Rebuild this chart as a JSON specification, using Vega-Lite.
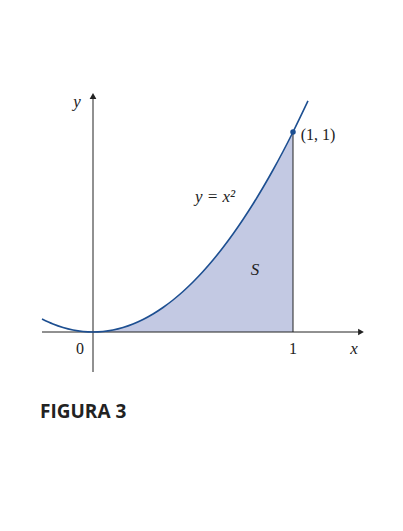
{
  "$schema": "https://vega.github.io/schema/vega-lite/v6.json",
  "width": 403,
  "height": 531,
  "autosize": {"type": "none"},
  "padding": 0,
  "background": "white",
  "config": {"view": {"stroke": null}},
  "datasets": {
    "curve": [
      {"x": -0.255, "y": 0.065}, {"x": -0.2, "y": 0.04}, {"x": -0.15, "y": 0.0225},
      {"x": -0.1, "y": 0.01}, {"x": -0.05, "y": 0.0025}, {"x": 0, "y": 0},
      {"x": 0.05, "y": 0.0025}, {"x": 0.1, "y": 0.01}, {"x": 0.15, "y": 0.0225},
      {"x": 0.2, "y": 0.04}, {"x": 0.25, "y": 0.0625}, {"x": 0.3, "y": 0.09},
      {"x": 0.35, "y": 0.1225}, {"x": 0.4, "y": 0.16}, {"x": 0.45, "y": 0.2025},
      {"x": 0.5, "y": 0.25}, {"x": 0.55, "y": 0.3025}, {"x": 0.6, "y": 0.36},
      {"x": 0.65, "y": 0.4225}, {"x": 0.7, "y": 0.49}, {"x": 0.75, "y": 0.5625},
      {"x": 0.8, "y": 0.64}, {"x": 0.85, "y": 0.7225}, {"x": 0.9, "y": 0.81},
      {"x": 0.95, "y": 0.9025}, {"x": 1, "y": 1}, {"x": 1.075, "y": 1.1556}
    ],
    "segments": [
      {"x": -0.255, "x2": 1.33, "y": 0, "y2": 0},
      {"x": 0, "x2": 0, "y": -0.2, "y2": 1.17},
      {"x": 1, "x2": 1, "y": 0, "y2": 1}
    ],
    "arrows": [
      {"x": 1.34, "y": 0, "shape": "triangle-right"},
      {"x": 0, "y": 1.18, "shape": "triangle-up"}
    ],
    "italic": [
      {"x": -0.08, "y": 1.15, "t": "y"},
      {"x": 1.305, "y": -0.085, "t": "x"},
      {"x": 0.61, "y": 0.675, "t": "y = x²"},
      {"x": 0.81, "y": 0.31, "t": "S"}
    ],
    "upright": [
      {"x": -0.065, "y": -0.085, "t": "0"},
      {"x": 1, "y": -0.085, "t": "1"},
      {"x": 1.125, "y": 0.985, "t": "(1, 1)"}
    ],
    "caption": [{"x": -0.265, "y": -0.4, "t": "FIGURA 3"}]
  },
  "encoding": {
    "x": {"field": "x", "type": "quantitative", "scale": {"domain": [-0.465, 1.55], "nice": false, "zero": false}, "axis": null},
    "y": {"field": "y", "type": "quantitative", "scale": {"domain": [-0.995, 1.66], "nice": false, "zero": false}, "axis": null}
  },
  "layer": [
    {
      "data": {"name": "curve"},
      "transform": [{"filter": "datum.x >= 0 && datum.x <= 1"}],
      "mark": {"type": "area", "color": "#c3c9e3"},
      "encoding": {"y2": {"datum": 0}}
    },
    {
      "data": {"name": "segments"},
      "mark": {"type": "rule", "color": "#222222", "strokeWidth": 1},
      "encoding": {"x2": {"field": "x2"}, "y2": {"field": "y2"}}
    },
    {
      "data": {"name": "arrows"},
      "mark": {"type": "point", "filled": true, "color": "#222222", "size": 45, "opacity": 1},
      "encoding": {"shape": {"field": "shape", "type": "nominal", "scale": null}}
    },
    {
      "data": {"name": "curve"},
      "mark": {"type": "line", "color": "#1d4f91", "strokeWidth": 1.6, "interpolate": "monotone"}
    },
    {
      "data": {"values": [{"x": 1, "y": 1}]},
      "mark": {"type": "point", "filled": true, "color": "#1d4f91", "size": 30, "opacity": 1}
    },
    {
      "data": {"name": "italic"},
      "mark": {"type": "text", "font": "Liberation Serif", "fontStyle": "italic", "fontSize": 17, "color": "#222222"},
      "encoding": {"text": {"field": "t"}}
    },
    {
      "data": {"name": "upright"},
      "mark": {"type": "text", "font": "Liberation Serif", "fontSize": 16, "color": "#222222"},
      "encoding": {"text": {"field": "t"}}
    },
    {
      "data": {"name": "caption"},
      "mark": {"type": "text", "font": "Open Sans", "fontWeight": "bold", "fontSize": 19, "align": "left", "color": "#222222"},
      "encoding": {"text": {"field": "t"}}
    }
  ]
}
